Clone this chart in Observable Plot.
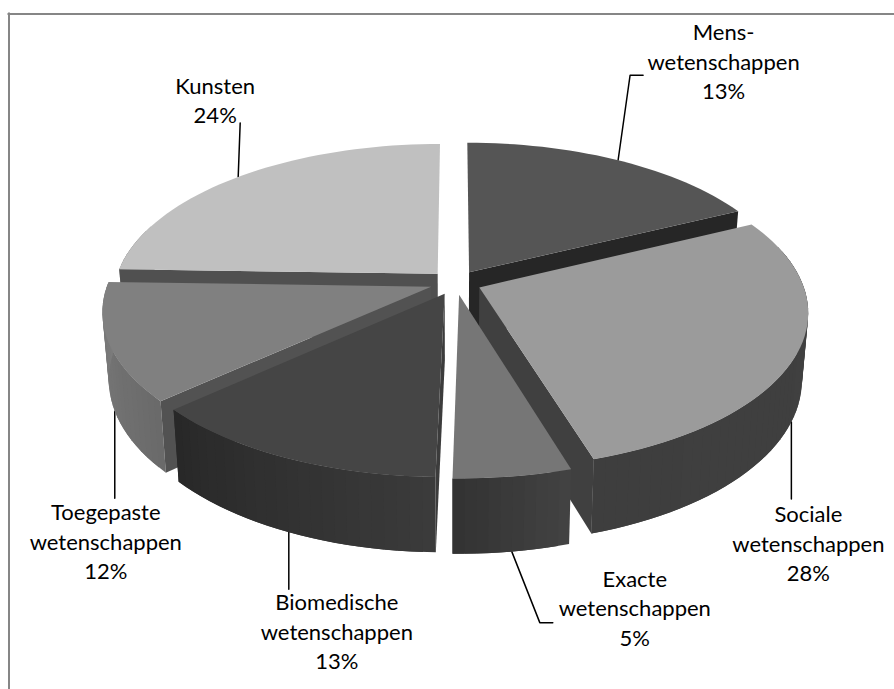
<!DOCTYPE html>
<html>
<head>
<meta charset="utf-8">
<script src="https://cdn.jsdelivr.net/npm/d3@7"></script>
<script src="https://cdn.jsdelivr.net/npm/@observablehq/plot@0.6"></script>
<style>html,body{margin:0;padding:0;background:#fff}svg{display:block}</style>
</head>
<body>
<div id="chart"></div>
<script>
// Data
const categories = ["Mens-\nwetenschappen", "Sociale\nwetenschappen", "Exacte\nwetenschappen", "Biomedische\nwetenschappen", "Toegepaste\nwetenschappen", "Kunsten"];
const printedPercent = [13, 28, 5, 13, 12, 24];
const drawnShare = [17.8, 27.5, 5, 13, 12.2, 24.5]; // slice sizes as drawn

// Styles
const topColors = ["#555555", "#9b9b9b", "#767676", "#454545", "#808080", "#c0c0c0"];
const sideColors = ["#262626", "#404040", "#3c3c3c", "#3c3c3c", "#525252", "#505050"];
const wallFrom = ["#404040", "#414141", "#434343", "#3b3b3b", "#6a6a6a", "#808080"];
const wallTo = ["#404040", "#3e3e3e", "#323232", "#282828", "#7c7c7c", "#808080"];
const paintOrder = [0, 5, 4, 1, 3, 2];
// Label placement relative to each slice's leader anchor, pixels
const leaderBends = [[[12, -85], [25, -85]], [[0, 77]], [[28, 71], [41, 71]], [[0, 57]], [[0, 87]], [[2, -54]]];
const labelShift = [[105.5, -100], [17, 120], [123, 55], [48, 98], [-9, 129], [-23, -78]];
const frameEdge = {left: 8.5, top: 13.5};

// View model of the tilted, exploded pie
const view = {cx: 455, cy: 282, k: 323, b: 152, c: 0.151, depth: 66, shrink: 0.982, explode: 0.08};
const rad = d3.scaleLinear().domain([0, 360]).range([0, 2 * Math.PI]);
function project(deg, r, mid, level) {
  const t = rad(deg), m = rad(mid);
  const u = r * Math.sin(t) + view.explode * Math.sin(m);
  const v = r * Math.cos(t) + view.explode * Math.cos(m);
  const w = 1 + view.c * v;
  const s = level === 0 ? view.shrink : 1;
  return {
    x: view.cx + s * view.k * u / w,
    y: view.cy + (-s * view.b * v + (level === 0 ? view.depth : 0)) / w
  };
}

const total = d3.sum(drawnShare);
const ends = d3.cumsum(drawnShare).map(d => d / total * 360);
const starts = [0, ...ends.slice(0, -1)];
const mids = starts.map((s, i) => (s + ends[i]) / 2);

const polys = [];
let id = 0;
function addPoly(points, color) {
  id++;
  points.forEach(p => polys.push({x: p.x, y: p.y, id, color}));
}
for (const i of paintOrder) {
  const a = starts[i], b = ends[i], m = mids[i];
  // outer wall on the viewer's side, in overlapping shaded strips so no seams show
  const shade = d3.interpolateRgb(wallFrom[i], wallTo[i]);
  const n = Math.ceil((b - a) / 2);
  for (let j = 0; j < n; j++) {
    const e0 = a + (b - a) * j / n, e1 = Math.min(b, a + (b - a) * (j + 2) / n);
    if (Math.cos(rad(e0)) > 0.3) continue;
    addPoly([project(e0, 1, m, 1), project(e0, 1, m, 0), project(e1, 1, m, 0), project(e1, 1, m, 1)], shade((j + 0.5) / n));
  }
  // cut faces that look toward the viewer
  const visibleCuts = [];
  if (Math.sin(rad(a)) < -1e-6) visibleCuts.push(a);
  if (Math.sin(rad(b)) > 1e-6) visibleCuts.push(b);
  for (const e of visibleCuts) {
    addPoly([project(e, 0, m, 1), project(e, 0, m, 0), project(e, 1, m, 0), project(e, 1, m, 1)], sideColors[i]);
  }
  // top face
  const rim = d3.range(0, n + 1).map(j => project(a + (b - a) * j / n, 1, m, 1));
  addPoly([project(a, 0, m, 1), ...rim], topColors[i]);
}

// Leaders start on the rim at each slice's middle angle
const anchors = mids.map(m => {
  const front = Math.cos(rad(m)) < 0;
  return project(m, 1, m, front ? 0 : 1);
});
const leaders = anchors.flatMap((a, i) => [
  {x: a.x, y: a.y, i},
  ...leaderBends[i].map(([dx, dy]) => ({x: a.x + dx, y: a.y + dy, i}))
]);
const labels = categories.map((c, i) => ({
  text: `${c}\n${printedPercent[i]}%`,
  x: anchors[i].x + labelShift[i][0],
  y: anchors[i].y + labelShift[i][1]
}));

const chart = Plot.plot({
  width: 894,
  height: 689,
  margin: 0,
  x: {domain: [0, 894], range: [0, 894], axis: null},
  y: {domain: [0, 689], range: [0, 689], axis: null},
  color: {type: "identity"},
  style: {background: "#fff"},
  marks: [
    Plot.ruleX([frameEdge.left], {y1: frameEdge.top - 1, y2: 689, stroke: "#868686", strokeWidth: 2}),
    Plot.ruleY([frameEdge.top], {x1: frameEdge.left - 1, x2: 894, stroke: "#868686", strokeWidth: 2}),
    Plot.line(leaders, {x: "x", y: "y", z: "i", stroke: "#000", strokeWidth: 1.5, curve: "linear"}),
    Plot.line(polys, {x: "x", y: "y", z: "id", fill: "color", strokeWidth: 0, curve: "linear-closed"}),
    Plot.text(labels, {x: "x", y: "y", text: "text", fontFamily: "Lato", fontSize: 22, lineHeight: 1.34, fill: "#000", textAnchor: "middle"})
  ]
});
document.getElementById("chart").appendChild(chart);
</script>
</body>
</html>
